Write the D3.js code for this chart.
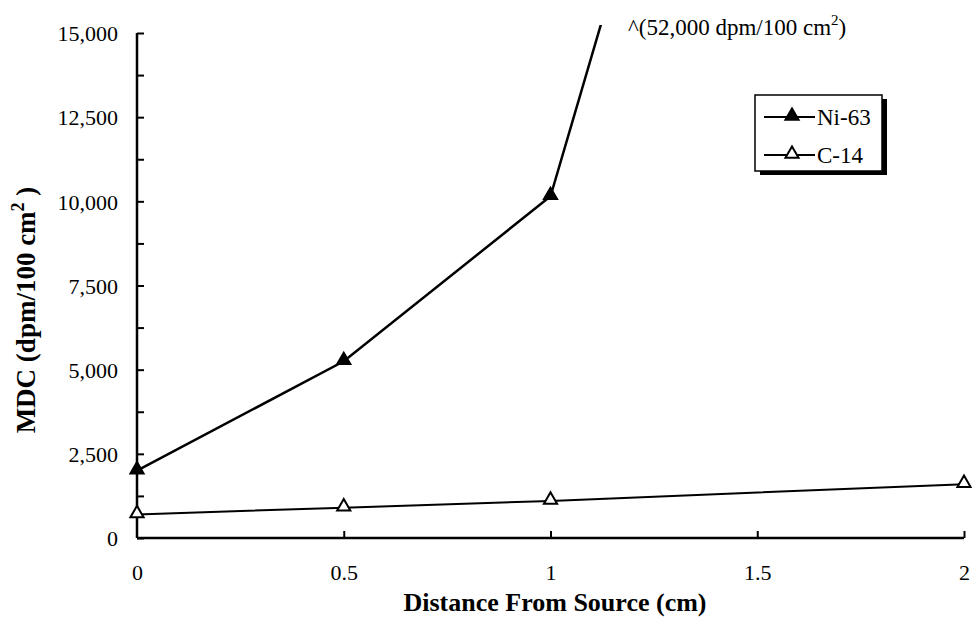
<!DOCTYPE html>
<html>
<head>
<meta charset="utf-8">
<script src="https://cdn.jsdelivr.net/npm/d3@7"></script>
<style>
  body { margin: 0; background: #fff; }
</style>
</head>
<body>
<div id="chart"></div>
<script>
// data
var distances = [0, 0.5, 1, 2];
var ni63 = [2000, 5250, 10150, 52000];
var c14 = [700, 900, 1100, 1600];
var seriesNames = ["Ni-63", "C-14"];
var xTicks = [0, 0.5, 1, 1.5, 2];
var yTicks = [0, 2500, 5000, 7500, 10000, 12500, 15000];

var serif = "'Liberation Serif'";

var margin = {top: 33, right: 8, bottom: 90, left: 137},
    width = 972 - margin.left - margin.right,
    height = 628 - margin.top - margin.bottom;

var svg = d3.select("#chart").append("svg")
    .attr("width", 972)
    .attr("height", 628);

var g = svg.append("g")
    .attr("transform", "translate(" + margin.left + "," + margin.top + ")");

var x = d3.scaleLinear().domain([0, 2]).range([0, width]);
var y = d3.scaleLinear().domain([0, 15000]).range([height, 0]);

// clip so the Ni-63 line runs just past the top edge
g.append("clipPath").attr("id", "clip")
  .append("rect").attr("x", -10).attr("y", -8).attr("width", width + 20).attr("height", height + 20);

// y axis with inward ticks, minor ticks between
var yAxis = g.append("g")
    .call(d3.axisLeft(y).tickValues(d3.range(0, 15001, 1250)).tickSize(-7).tickPadding(19)
      .tickFormat(function(d) { return yTicks.indexOf(d) >= 0 ? d3.format(",")(d) : ""; }));
yAxis.attr("font-family", null);
yAxis.select(".domain").attr("d", "M0,0V" + height).attr("stroke-width", 2.5);
yAxis.selectAll(".tick line").attr("stroke-width", 2);
yAxis.selectAll(".tick text").style("font-size", "22px").style("font-family", serif).attr("dy", "0.35em");

// x axis with ticks pointing up
var xAxis = g.append("g")
    .attr("transform", "translate(0," + height + ")")
    .call(d3.axisBottom(x).tickValues(xTicks).tickSize(-7).tickPadding(26)
      .tickFormat(function(d) { return d; }));
xAxis.attr("font-family", null);
xAxis.select(".domain").attr("d", "M0,0H" + width).attr("stroke-width", 2.5);
xAxis.selectAll(".tick line").attr("stroke-width", 2);
xAxis.selectAll(".tick").filter(function(d) { return d === 0; }).select("line").remove();
xAxis.selectAll(".tick text").style("font-size", "22px").style("font-family", serif);

// axis titles
svg.append("text")
    .attr("x", 555).attr("y", 611)
    .attr("text-anchor", "middle")
    .style("font-family", serif)
    .style("font-size", "26px").style("font-weight", "bold")
    .text("Distance From Source (cm)");

var yTitle = svg.append("text")
    .attr("transform", "translate(35,310) rotate(-90)")
    .attr("text-anchor", "middle")
    .style("font-family", serif)
    .style("font-size", "27px").style("font-weight", "bold");
yTitle.append("tspan").text("MDC (dpm/100 cm");
yTitle.append("tspan").attr("dy", "-11").style("font-size", "18px").text("2");
yTitle.append("tspan").attr("dy", "11").text(" )");

var line = d3.line()
    .x(function(d) { return x(d[0]); })
    .y(function(d) { return y(d[1]); });

var tri = d3.symbol().type(d3.symbolTriangle).size(75);

var series = [
  {name: seriesNames[0], values: ni63, fill: "#000", width: 2.5},
  {name: seriesNames[1], values: c14, fill: "#fff", width: 2}
];

series.forEach(function(s) {
  var pts = distances.map(function(d, i) { return [d, s.values[i]]; });
  g.append("path")
      .datum(pts)
      .attr("clip-path", "url(#clip)")
      .attr("fill", "none")
      .attr("stroke", "#000")
      .attr("stroke-width", s.width)
      .attr("d", line);
  g.selectAll(null)
      .data(pts.filter(function(p) { return p[1] <= 15000; }))
      .enter().append("path")
      .attr("transform", function(p) { return "translate(" + x(p[0]) + "," + (y(p[1]) - 1) + ")"; })
      .attr("d", tri)
      .attr("fill", s.fill)
      .attr("stroke", "#000")
      .attr("stroke-width", 2);
});

// off-scale note
var note = svg.append("text")
    .attr("x", 628).attr("y", 35)
    .style("font-family", serif)
    .style("font-size", "23px");
note.append("tspan").text("^(52,000 dpm/100 cm");
note.append("tspan").attr("dy", "-10").style("font-size", "15px").text("2");
note.append("tspan").attr("dy", "10").text(")");

// legend with drop shadow
var lg = svg.append("g").attr("transform", "translate(755,95)");
lg.append("rect").attr("x", 5).attr("y", 4).attr("width", 127).attr("height", 76).attr("fill", "#000");
lg.append("rect").attr("width", 127).attr("height", 76).attr("fill", "#fff")
    .attr("stroke", "#000").attr("stroke-width", 1.5);
series.forEach(function(s, i) {
  var yy = 22 + i * 38;
  lg.append("line").attr("x1", 9).attr("x2", 60).attr("y1", yy).attr("y2", yy)
      .attr("stroke", "#000").attr("stroke-width", 2);
  lg.append("path").attr("transform", "translate(37," + (yy - 1) + ")")
      .attr("d", tri).attr("fill", s.fill).attr("stroke", "#000").attr("stroke-width", 2);
  lg.append("text").attr("x", 62).attr("y", yy).attr("dy", "0.35em")
      .style("font-family", serif)
      .style("font-size", "23px").text(s.name);
});
</script>
</body>
</html>
